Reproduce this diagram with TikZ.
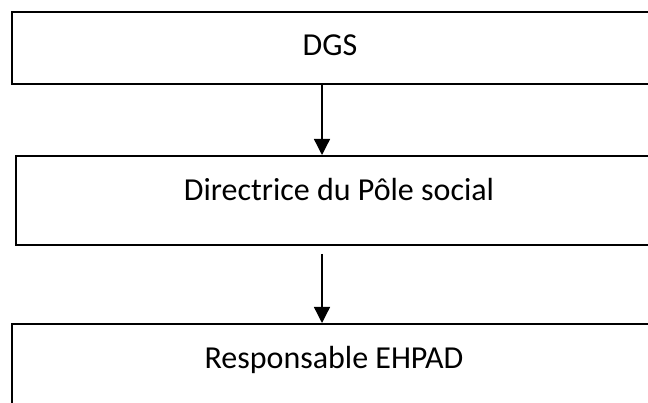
\documentclass[tikz,border=0pt]{standalone}
\usepackage{fontspec}
\setmainfont{Carlito}
\usetikzlibrary{arrows.meta}
\begin{document}
\begin{tikzpicture}[x=1pt,y=-1pt,
  boxstyle/.style={draw=black,line width=2pt,rectangle,inner sep=0pt},
  lbl/.style={font=\fontsize{32}{38}\selectfont,inner sep=0pt,anchor=base},
  conn/.style={line width=1.3pt,-{Triangle[width=16pt,length=16pt]}}]
\useasboundingbox (0,0) rectangle (648,403);
\clip (0,0) rectangle (648,403);
\node[boxstyle,minimum width=650pt,minimum height=72pt,anchor=north west] (dgs) at (10.5,11) {};
\node[boxstyle,minimum width=650pt,minimum height=89pt,anchor=north west] (dir) at (14.5,155) {};
\node[boxstyle,minimum width=650pt,minimum height=100pt,anchor=north west] (resp) at (10.5,323) {};
\node[lbl] (t1) at (330,56) {DGS};
\node[lbl] (t2) at (339,201) {Directrice du Pôle social};
\node[lbl] (t3) at (334,368) {Responsable EHPAD};
\coordinate (ax) at (322,0);
\draw[conn] (dgs.south -| ax) -- (dir.north -| ax);
\draw[conn,shorten <=8pt] (dir.south -| ax) -- (resp.north -| ax);
\end{tikzpicture}
\end{document}
